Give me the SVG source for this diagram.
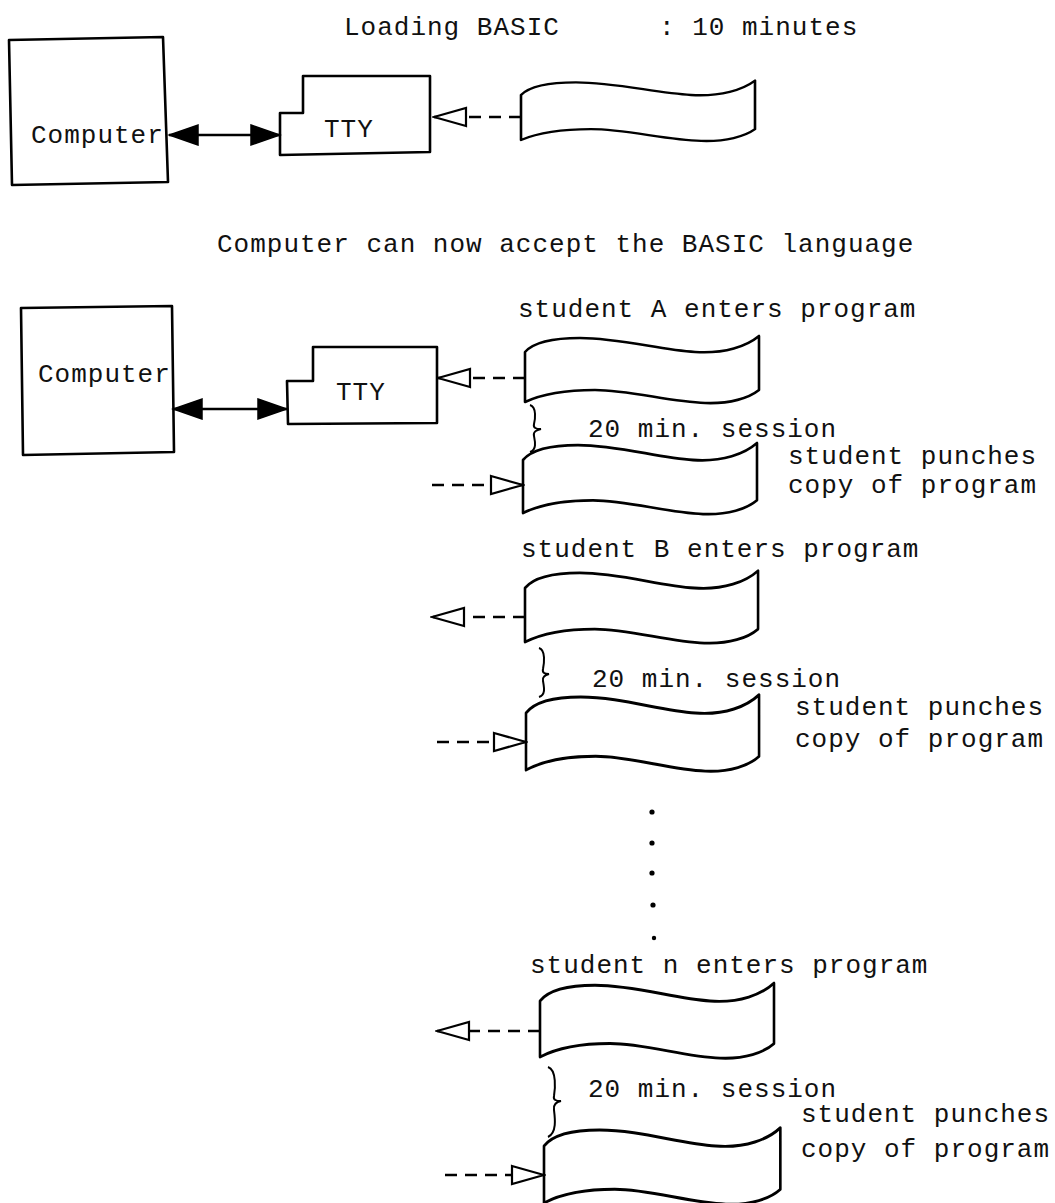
<svg xmlns="http://www.w3.org/2000/svg" width="1055" height="1203" viewBox="0 0 1055 1203">
<style>
  .bg{fill:#fff}
  .box{fill:#fff;stroke:#000;stroke-width:2.6;stroke-linejoin:round}
  .tape{fill:#fff;stroke:#000;stroke-width:2.6;stroke-linejoin:round}
  .brace{fill:none;stroke:#000;stroke-width:2}
  .solidline{fill:none;stroke:#000;stroke-width:2.4}
  .dashline{fill:none;stroke:#000;stroke-width:2.6;stroke-dasharray:12 8}
  .dot{fill:#000}
  text{font-family:"Liberation Mono","DejaVu Sans Mono",monospace;font-size:26px;letter-spacing:1px;fill:#111}
</style>
<defs>
  <path id="tapeShape" d="M0,0 C8,-9 25,-14 55,-14 C95,-14 135,-2 170,0 C200,2 222,-6 234,-16 L234,38 C224,46 205,52 180,51 C145,50 105,38 70,38 C40,38 15,43 0,50 Z"/>
  <marker id="hollow" markerUnits="userSpaceOnUse" viewBox="-36 -12 38 24" markerWidth="38" markerHeight="24" refX="0" refY="0" orient="auto">
    <path d="M-32,-9 L0,0 L-32,9 Z" fill="#fff" stroke="#000" stroke-width="2.2" stroke-dasharray="none" stroke-linejoin="miter"/>
  </marker>
  <marker id="solid" markerUnits="userSpaceOnUse" viewBox="-32 -12 34 24" markerWidth="34" markerHeight="24" refX="0" refY="0" orient="auto-start-reverse">
    <path d="M-29,-10 L0,0 L-29,10 Z" fill="#000" stroke="#000" stroke-width="1.5"/>
  </marker>
</defs>
<rect class="bg" x="0" y="0" width="1055" height="1203"/>

<g id="title">
  <text x="344" y="35">Loading BASIC</text>
  <text x="659" y="35">: 10 minutes</text>
</g>

<g id="computer-1">
  <path class="box" d="M9,40 L163,37 L168,182 L12,185 Z"/>
  <text x="31" y="143">Computer</text>
</g>
<g id="tty-1">
  <path class="box" d="M280,155 L280,113 L303,113 L303,76 L430,76 L430,152 Z"/>
  <text x="324" y="137">TTY</text>
</g>
<g id="tape-1">
  <use href="#tapeShape" class="tape" transform="translate(521,95) scale(1,0.9)"/>
</g>

<g id="heading">
  <text x="217" y="252">Computer can now accept the BASIC language</text>
</g>

<g id="computer-2">
  <path class="box" d="M21,308 L172,306 L174,452 L23,455 Z"/>
  <text x="38" y="382">Computer</text>
</g>
<g id="tty-2">
  <path class="box" d="M288,424 L287,381 L313,381 L313,347 L437,347 L437,423 Z"/>
  <text x="336" y="400">TTY</text>
</g>

<g id="label-A">
  <text x="518" y="317">student A enters program</text>
</g>
<g id="tape-A">
  <use href="#tapeShape" class="tape" transform="translate(525,352)"/>
</g>
<g id="session-A">
  <path class="brace" d="M530,405 C537,407 535,420 534,424 C533,428 536,429 541,429 C536,430 533,432 534,436 C535,441 537,450 530,452"/>
  <text x="588" y="437">20 min. session</text>
</g>
<g id="tape-A2">
  <use href="#tapeShape" class="tape" transform="translate(523,460) scale(1,1.06)"/>
  <text x="788" y="464">student punches</text>
  <text x="788" y="493">copy of program</text>
</g>

<g id="label-B">
  <text x="521" y="557">student B enters program</text>
</g>
<g id="tape-B">
  <use href="#tapeShape" class="tape" transform="translate(525,588) scale(0.996,1.08)"/>
</g>
<g id="session-B">
  <path class="brace" d="M539,648 C546,650 544,664 543,669 C542,673 545,674 549,674 C545,675 542,677 543,681 C544,687 546,695 539,697"/>
  <text x="592" y="687">20 min. session</text>
</g>
<g id="tape-B2">
  <use href="#tapeShape" class="tape" transform="translate(526,713) scale(0.996,1.14)"/>
  <text x="795" y="715">student punches</text>
  <text x="795" y="747">copy of program</text>
</g>

<g id="ellipsis">
  <circle class="dot" cx="652" cy="812" r="2.6"/>
  <circle class="dot" cx="652" cy="843" r="2.6"/>
  <circle class="dot" cx="652" cy="873" r="2.6"/>
  <circle class="dot" cx="653" cy="905" r="2.6"/>
  <circle class="dot" cx="654" cy="938" r="2.2"/>
</g>

<g id="label-n">
  <text x="530" y="973">student n  enters program</text>
</g>
<g id="tape-n">
  <use href="#tapeShape" class="tape" transform="translate(540,1001) scale(1.0,1.12)"/>
</g>
<g id="session-n">
  <path class="brace" d="M548,1067 C557,1070 555,1090 554,1096 C553,1100 556,1101 561,1101 C556,1102 553,1105 554,1110 C555,1118 557,1133 548,1137"/>
  <text x="588" y="1097">20 min. session</text>
</g>
<g id="tape-n2">
  <use href="#tapeShape" class="tape" transform="translate(544,1146) scale(1.01,1.14)"/>
  <text x="801" y="1122">student punches</text>
  <text x="801" y="1157">copy of program</text>
</g>

<g id="connectors">
  <path class="solidline" d="M169,135 L280,135" marker-start="url(#solid)" marker-end="url(#solid)"/>
  <path class="dashline" d="M521,117 L434,117" marker-end="url(#hollow)"/>
  <path class="solidline" d="M173,409 L287,409" marker-start="url(#solid)" marker-end="url(#solid)"/>
  <path class="dashline" d="M525,378 L438,378" marker-end="url(#hollow)"/>
  <path class="dashline" d="M432,485 L523,485" marker-end="url(#hollow)"/>
  <path class="dashline" d="M525,617 L432,617" marker-end="url(#hollow)"/>
  <path class="dashline" d="M437,742 L526,742" marker-end="url(#hollow)"/>
  <path class="dashline" d="M540,1031 L437,1031" marker-end="url(#hollow)"/>
  <path class="dashline" d="M445,1175 L544,1175" marker-end="url(#hollow)"/>
</g>
</svg>
